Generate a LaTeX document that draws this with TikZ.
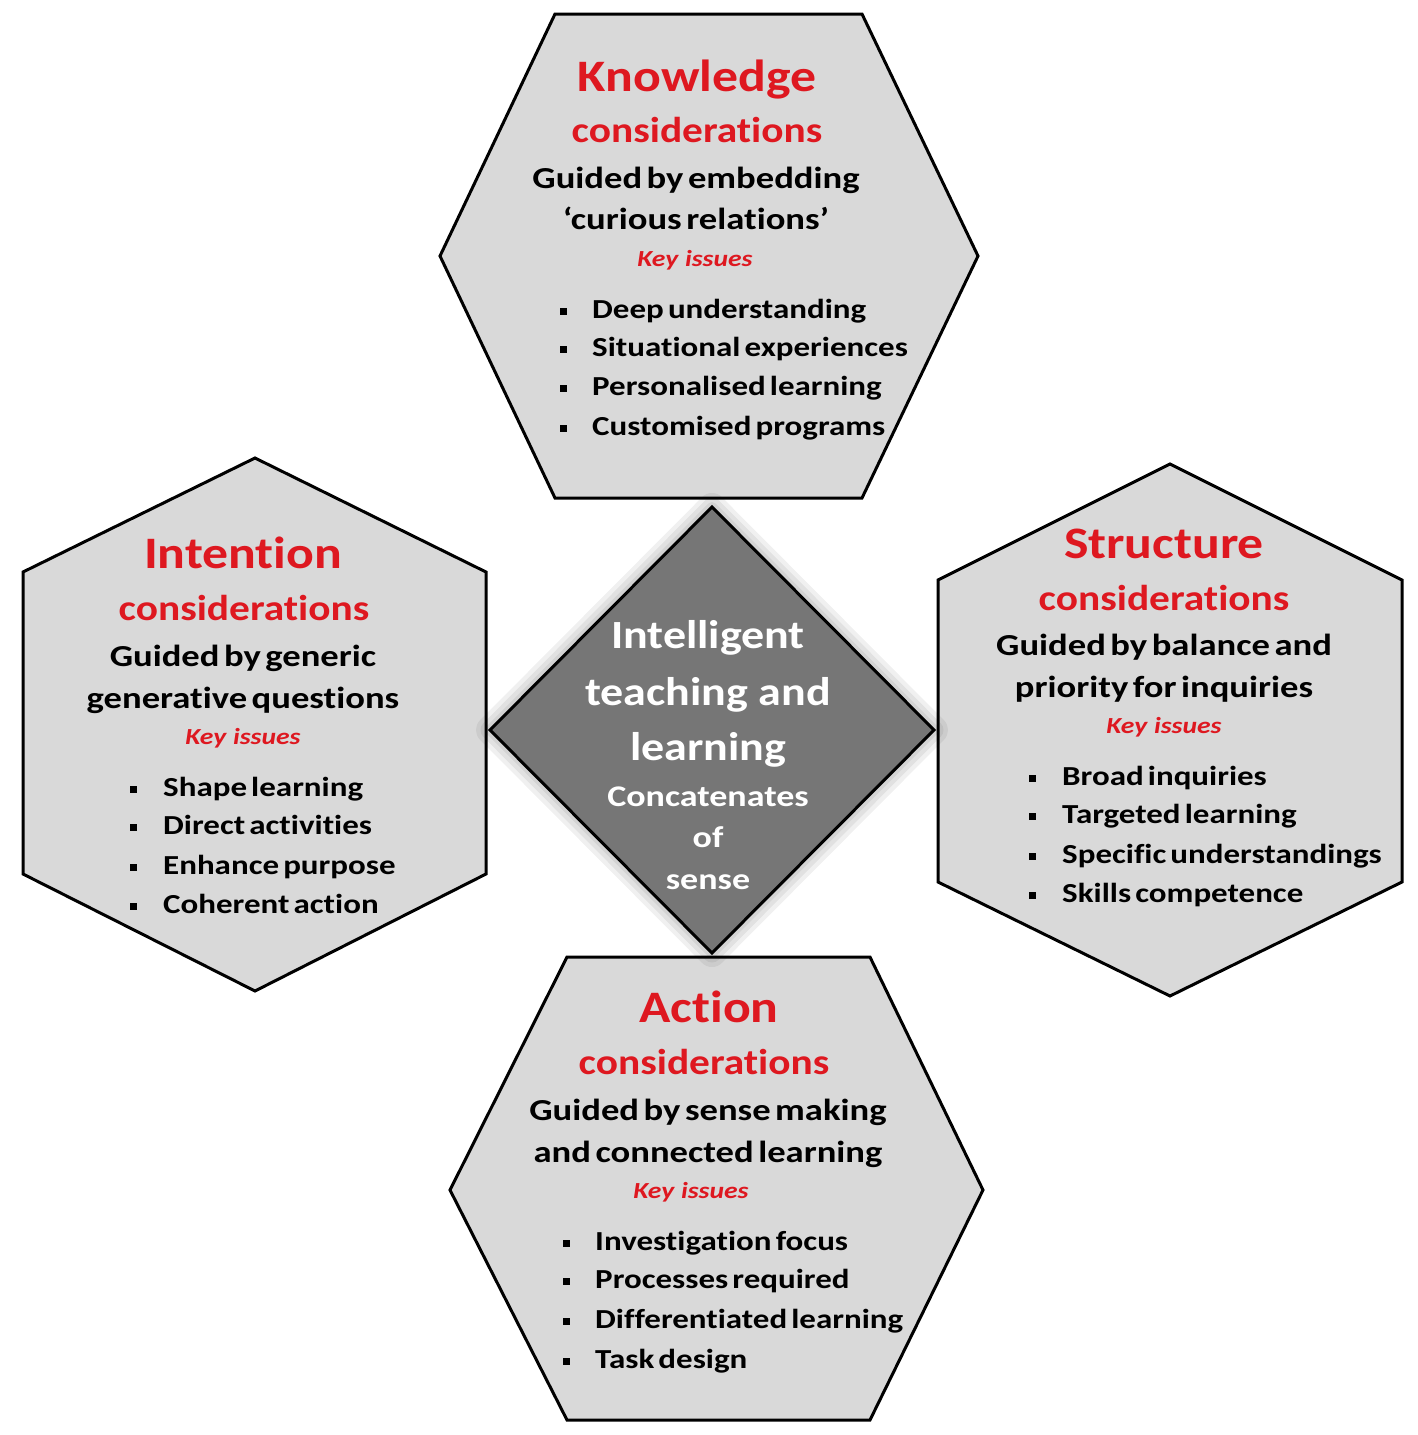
\documentclass[tikz,border=0pt]{standalone}
\usepackage{fontspec}
\newfontfamily\headfont{Carlito}[FakeStretch=1.15, Ligatures=NoCommon]
\newfontfamily\bodyfont{Carlito}[FakeStretch=1.2, Ligatures=NoCommon]
\newfontfamily\itemfont{Carlito}[FakeStretch=1.2, Ligatures=NoCommon, WordSpace=0.55]
\definecolor{kred}{RGB}{222,24,32}
\definecolor{hexgray}{RGB}{217,217,217}
\definecolor{diagray}{RGB}{118,118,118}

\begin{document}
\begin{tikzpicture}[
  x=1pt, y=-1pt,
  hex/.style={draw=black, line width=3pt, fill=hexgray, line join=miter},
  glow/.style={draw=black, opacity=0.06, line join=round},
  head/.style={font=\headfont\bfseries\fontsize{45}{45}\selectfont, text=kred, anchor=base, inner sep=0pt},
  cons/.style={font=\headfont\bfseries\fontsize{36}{36}\selectfont, text=kred, anchor=base, inner sep=0pt},
  guide/.style={font=\bodyfont\bfseries\fontsize{30.5}{30.5}\selectfont, anchor=base, inner sep=0pt},
  key/.style={font=\bodyfont\bfseries\itshape\fontsize{23}{23}\selectfont, text=kred, anchor=base, inner sep=0pt},
  item/.style={font=\itemfont\bfseries\fontsize{27.5}{27.5}\selectfont, anchor=base west, inner sep=0pt},
  mid title/.style={font=\headfont\bfseries\fontsize{40}{40}\selectfont, text=white, anchor=base, inner sep=0pt},
  mid sub/.style={font=\bodyfont\bfseries\fontsize{30}{30}\selectfont, text=white, anchor=base, inner sep=0pt}
]
\fill[white] (0,0) rectangle (1417,1435);
\useasboundingbox (0,0) rectangle (1417,1435);

% Hexagons
\draw[hex] (555,14) -- (862,14) -- (978,256) -- (862,498) -- (555,498) -- (440,256) -- cycle;
\draw[hex] (255,458) -- (486,572) -- (486,874) -- (255,991) -- (23,874) -- (23,572) -- cycle;
\draw[hex] (1170,464) -- (1402,580) -- (1402,882) -- (1170,996) -- (938,882) -- (938,580) -- cycle;
\draw[hex] (567,957) -- (870,957) -- (983,1190) -- (870,1420) -- (567,1420) -- (450,1190) -- cycle;

% Centre diamond with soft glow
\draw[glow, line width=28pt] (712,507) -- (934,730) -- (712,953) -- (490,730) -- cycle;
\draw[glow, line width=19pt] (712,507) -- (934,730) -- (712,953) -- (490,730) -- cycle;
\draw[glow, line width=10pt] (712,507) -- (934,730) -- (712,953) -- (490,730) -- cycle;
\draw[line width=3pt, fill=diagray, line join=miter]
  (712,507) -- (934,730) -- (712,953) -- (490,730) -- cycle;

% Knowledge
\node[head] (knowHead) at (697,91) {Knowledge};
\node[cons] (knowCons) at (697,142) {considerations};
\node[guide] (knowGuideA) at (696,188) {Guided by embedding};
\node[guide] (knowGuideB) at (696,229) {‘curious relations’};
\node[key] (knowKey) at (695,266) {Key\ \ issues};
\node[item] (knowA) at (592,318) {\llap{\rule[3pt]{7pt}{7pt}\hspace{25pt}}Deep understanding};
\node[item] (knowB) at (592,356) {\llap{\rule[3pt]{7pt}{7pt}\hspace{25pt}}Situational experiences};
\node[item] (knowC) at (592,395) {\llap{\rule[3pt]{7pt}{7pt}\hspace{25pt}}Personalised learning};
\node[item] (knowD) at (592,435) {\llap{\rule[3pt]{7pt}{7pt}\hspace{25pt}}Customised programs};

% Intention
\node[head] (intHead) at (243,568) {Intention};
\node[cons] (intCons) at (244,620) {considerations};
\node[guide] (intGuideA) at (243,666) {Guided by generic};
\node[guide] (intGuideB) at (243,708) {generative questions};
\node[key] (intKey) at (243,744) {Key\ \ issues};
\node[item] (intA) at (163,796) {\llap{\rule[3pt]{7pt}{7pt}\hspace{26pt}}Shape learning};
\node[item] (intB) at (163,834) {\llap{\rule[3pt]{7pt}{7pt}\hspace{26pt}}Direct activities};
\node[item] (intC) at (163,874) {\llap{\rule[3pt]{7pt}{7pt}\hspace{26pt}}Enhance purpose};
\node[item] (intD) at (163,913) {\llap{\rule[3pt]{7pt}{7pt}\hspace{26pt}}Coherent action};

% Structure
\node[head] (strHead) at (1164,558) {Structure};
\node[cons] (strCons) at (1164,610) {considerations};
\node[guide] (strGuideA) at (1164,655) {Guided by balance and};
\node[guide] (strGuideB) at (1164,697) {priority for inquiries};
\node[key] (strKey) at (1164,733) {Key\ \ issues};
\node[item] (strA) at (1062,785) {\llap{\rule[3pt]{7pt}{7pt}\hspace{26pt}}Broad inquiries};
\node[item] (strB) at (1062,823) {\llap{\rule[3pt]{7pt}{7pt}\hspace{26pt}}Targeted learning};
\node[item] (strC) at (1062,863) {\llap{\rule[3pt]{7pt}{7pt}\hspace{26pt}}Specific understandings};
\node[item] (strD) at (1062,902) {\llap{\rule[3pt]{7pt}{7pt}\hspace{26pt}}Skills competence};

% Action
\node[head] (actHead) at (709,1022) {Action};
\node[cons] (actCons) at (704,1074) {considerations};
\node[guide] (actGuideA) at (708,1120) {Guided by sense making};
\node[guide] (actGuideB) at (708,1162) {and connected learning};
\node[key] (actKey) at (691,1198) {Key\ \ issues};
\node[item] (actA) at (595,1250) {\llap{\rule[3pt]{7pt}{7pt}\hspace{25pt}}Investigation focus};
\node[item] (actB) at (595,1288) {\llap{\rule[3pt]{7pt}{7pt}\hspace{25pt}}Processes required};
\node[item] (actC) at (595,1328) {\llap{\rule[3pt]{7pt}{7pt}\hspace{25pt}}Differentiated learning};
\node[item] (actD) at (595,1368) {\llap{\rule[3pt]{7pt}{7pt}\hspace{25pt}}Task design};

% Diamond text
\node[mid title] (itlA) at (708,648) {Intelligent};
\node[mid title] (itlB) at (708,705) {teaching and};
\node[mid title] (itlC) at (708,760) {learning};
\node[mid sub] (catA) at (708,806) {Concatenates};
\node[mid sub] (catB) at (708,847) {of};
\node[mid sub] (catC) at (708,889) {sense};
\end{tikzpicture}
\end{document}
